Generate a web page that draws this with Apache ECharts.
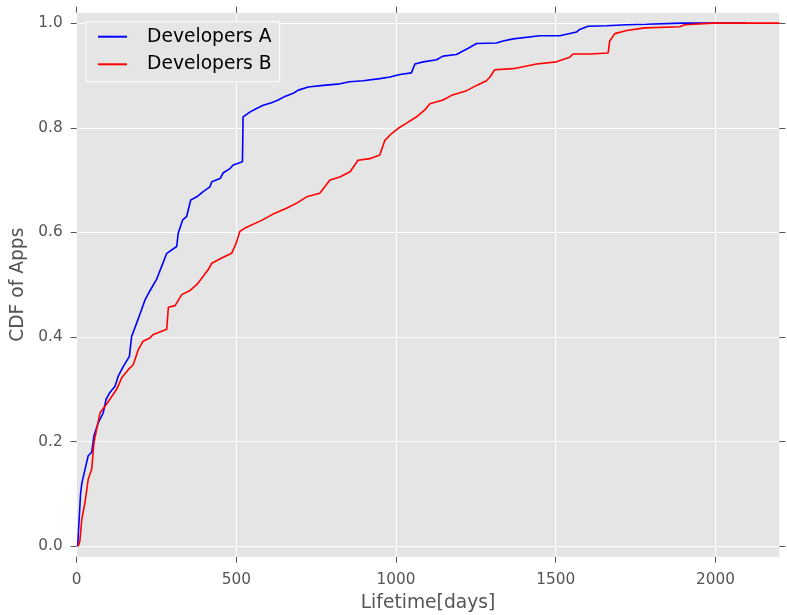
<!DOCTYPE html>
<html>
<head>
<meta charset="utf-8">
<script src="https://cdn.jsdelivr.net/npm/echarts@6/dist/echarts.min.js"></script>
<style>html,body{margin:0;padding:0;background:#fff;}#c{width:787px;height:615px;}</style>
</head>
<body>
<div id="c"></div>
<script>
const seriesNames = ['Developers A', 'Developers B'];
const xTicks = [0, 500, 1000, 1500, 2000];
const yTicks = [0, 0.2, 0.4, 0.6, 0.8, 1.0];

const daysA = [3,12,16,26,36,47,54,68,83,92,104,120,130,146,165,168,172,188,203,214,229,250,266,282,313,318,332,344,357,376,396,417,423,449,459,480,490,519,521,542,563,584,610,631,652,678,694,725,772,824,855,897,949,981,1012,1048,1059,1085,1127,1147,1189,1226,1252,1314,1335,1367,1450,1513,1565,1575,1601,1659,1722,1784,1893,2097];
const cdfA = [0,0.1,0.12,0.147,0.173,0.18,0.211,0.237,0.255,0.281,0.294,0.306,0.325,0.344,0.363,0.38,0.401,0.427,0.452,0.471,0.488,0.51,0.535,0.56,0.573,0.599,0.624,0.63,0.662,0.668,0.678,0.687,0.697,0.703,0.714,0.722,0.729,0.735,0.821,0.83,0.837,0.843,0.848,0.853,0.86,0.866,0.872,0.878,0.881,0.884,0.888,0.89,0.894,0.897,0.902,0.905,0.922,0.926,0.93,0.937,0.94,0.952,0.961,0.962,0.966,0.97,0.976,0.976,0.983,0.988,0.994,0.995,0.997,0.998,1.0,1.0];

const daysB = [5,10,16,26,36,47,54,73,89,104,125,141,162,177,193,208,229,240,282,287,308,329,355,376,396,412,423,454,485,499,511,532,579,615,657,689,720,761,793,824,856,881,918,949,965,986,1007,1033,1064,1090,1106,1147,1174,1221,1252,1283,1294,1309,1367,1440,1502,1544,1554,1607,1664,1669,1685,1722,1779,1888,1904,1992,2200];
const cdfB = [0,0.01,0.052,0.084,0.128,0.147,0.198,0.255,0.268,0.281,0.3,0.322,0.338,0.347,0.376,0.392,0.398,0.405,0.415,0.457,0.46,0.481,0.489,0.5,0.516,0.529,0.541,0.551,0.56,0.579,0.602,0.61,0.623,0.635,0.646,0.656,0.668,0.675,0.7,0.706,0.716,0.738,0.741,0.748,0.776,0.789,0.799,0.809,0.821,0.834,0.846,0.853,0.862,0.871,0.881,0.89,0.897,0.911,0.913,0.922,0.926,0.935,0.941,0.941,0.943,0.966,0.98,0.986,0.991,0.993,0.997,1.0,1.0];

const zip = (xs, ys) => xs.map((x, i) => [x, ys[i]]);
const FONT = 'DejaVu Sans';
const tickColor = '#555555';

const chart = echarts.init(document.getElementById('c'), null, {renderer: 'canvas'});
chart.setOption({
  animation: false,
  backgroundColor: '#ffffff',
  grid: {left: 76.7, right: 7.7, top: 12.7, bottom: 58.3, show: true, backgroundColor: '#e5e5e5', borderWidth: 0,
    containLabel: false, outerBoundsMode: 'none'},
  legend: {
    left: 86, top: 21.7, orient: 'vertical',
    data: seriesNames,
    icon: 'rect', itemWidth: 29, itemHeight: 2, itemGap: 7.6,
    padding: [5, 8, 7.4, 12],
    backgroundColor: '#e5e5e5', borderColor: '#ffffff', borderWidth: 1,
    textStyle: {fontFamily: FONT, fontSize: 18.7, color: '#000', lineHeight: 20, padding: [0, 0, 0, 15]}
  },
  xAxis: [{
    type: 'value', min: 0, max: 2200, position: 'bottom',
    name: 'Lifetime[days]', nameLocation: 'middle', nameGap: 37,
    nameTextStyle: {fontFamily: FONT, fontSize: 18.7, color: tickColor},
    axisLine: {show: false, onZero: false},
    axisTick: {show: true, length: 6, inside: false, lineStyle: {color: tickColor}, customValues: xTicks},
    axisLabel: {fontFamily: FONT, fontSize: 15.3, color: tickColor, margin: 16, customValues: xTicks,
      formatter: v => String(v)},
    splitLine: {show: true, lineStyle: {color: '#ffffff', width: 1}}
  }, {
    type: 'value', min: 0, max: 2200, position: 'top',
    axisLine: {show: false, onZero: false},
    axisTick: {show: true, length: 6, lineStyle: {color: tickColor}, customValues: xTicks},
    axisLabel: {show: false, customValues: xTicks},
    splitLine: {show: false}
  }],
  yAxis: [{
    type: 'value', min: -0.02, max: 1.02, position: 'left',
    name: 'CDF of Apps', nameLocation: 'middle', nameGap: 42, nameRotate: 90,
    nameTextStyle: {fontFamily: FONT, fontSize: 18.7, color: tickColor},
    axisLine: {show: false, onZero: false},
    axisTick: {show: true, length: 6, lineStyle: {color: tickColor}, customValues: yTicks},
    axisLabel: {fontFamily: FONT, fontSize: 15.3, color: tickColor, margin: 14, customValues: yTicks,
      formatter: v => v.toFixed(1)},
    splitLine: {show: true, lineStyle: {color: '#ffffff', width: 1}}
  }, {
    type: 'value', min: -0.02, max: 1.02, position: 'right',
    axisLine: {show: false, onZero: false},
    axisTick: {show: true, length: 6, lineStyle: {color: tickColor}, customValues: yTicks},
    axisLabel: {show: false, customValues: yTicks},
    splitLine: {show: false}
  }],
  series: [{
    name: seriesNames[0], type: 'line', xAxisIndex: 0, yAxisIndex: 0,
    data: zip(daysA, cdfA), symbol: 'none', color: '#0000ff',
    lineStyle: {color: '#0000ff', width: 1.6}
  }, {
    name: seriesNames[1], type: 'line', xAxisIndex: 0, yAxisIndex: 0,
    data: zip(daysB, cdfB), symbol: 'none', color: '#ff0000',
    lineStyle: {color: '#ff0000', width: 1.6}
  }]
});
</script>
</body>
</html>
